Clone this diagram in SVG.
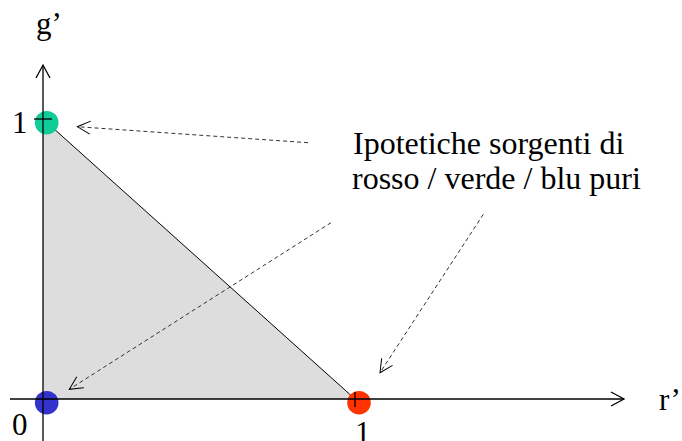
<svg xmlns="http://www.w3.org/2000/svg" width="682" height="441" viewBox="0 0 682 441">
<style>
text{font-family:"Liberation Serif","Times New Roman",serif;font-size:31px;fill:#000}
.note{font-size:32px}
.axis{stroke:#000;stroke-width:1.3;fill:none}
.dash{stroke:#333;stroke-width:1;stroke-dasharray:4 3;fill:none}
</style>
<defs>
<marker id="open" markerUnits="userSpaceOnUse" markerWidth="30" markerHeight="30" viewBox="-15 -15 30 30" refX="0" refY="0" orient="auto" overflow="visible">
<path d="M-13,-6.5 L0,0 L-13,6.5" fill="none" stroke="#000" stroke-width="1"/>
</marker>
<marker id="axhead" markerUnits="userSpaceOnUse" markerWidth="30" markerHeight="30" viewBox="-15 -15 30 30" refX="0" refY="0" orient="auto" overflow="visible">
<path d="M-13,-7 L0,0 L-13,7" fill="none" stroke="#000" stroke-width="1.3"/>
</marker>
</defs>
<g id="triangle">
<polygon points="43,119 43,399 355,399" fill="#dddddd"/>
<line x1="43" y1="119" x2="355" y2="399" stroke="#000" stroke-width="1"/>
</g>
<g id="green"><circle cx="46.7" cy="122.7" r="11.8" fill="#0fcc99"/></g>
<g id="blue"><circle cx="46.7" cy="402.7" r="11.8" fill="#3333cc"/></g>
<g id="red"><circle cx="359" cy="402.7" r="11.8" fill="#ff3300"/></g>
<g id="axes">
<line class="axis" x1="43" y1="441" x2="43" y2="65" marker-end="url(#axhead)"/>
<line class="axis" x1="10" y1="399" x2="624" y2="399" marker-end="url(#axhead)"/>
<line class="axis" x1="34" y1="119" x2="52" y2="119"/>
<line class="axis" x1="355" y1="392" x2="355" y2="407"/>
</g>
<g id="labels">
<text x="36" y="34">g’</text>
<text x="659" y="410">r’</text>
<text x="12" y="133">1</text>
<text x="12" y="435">0</text>
<text x="355" y="443">1</text>
</g>
<g id="note">
<text class="note" x="353" y="154">Ipotetiche sorgenti di</text>
<text class="note" x="352" y="189">rosso / verde / blu puri</text>
</g>
<g id="connectors">
<line class="dash" x1="308" y1="142.7" x2="77.3" y2="126.7" marker-end="url(#open)"/>
<line class="dash" x1="331" y1="222.7" x2="69.3" y2="389.3" marker-end="url(#open)"/>
<line class="dash" x1="483.3" y1="214.3" x2="380" y2="372.7" marker-end="url(#open)"/>
</g>
</svg>
